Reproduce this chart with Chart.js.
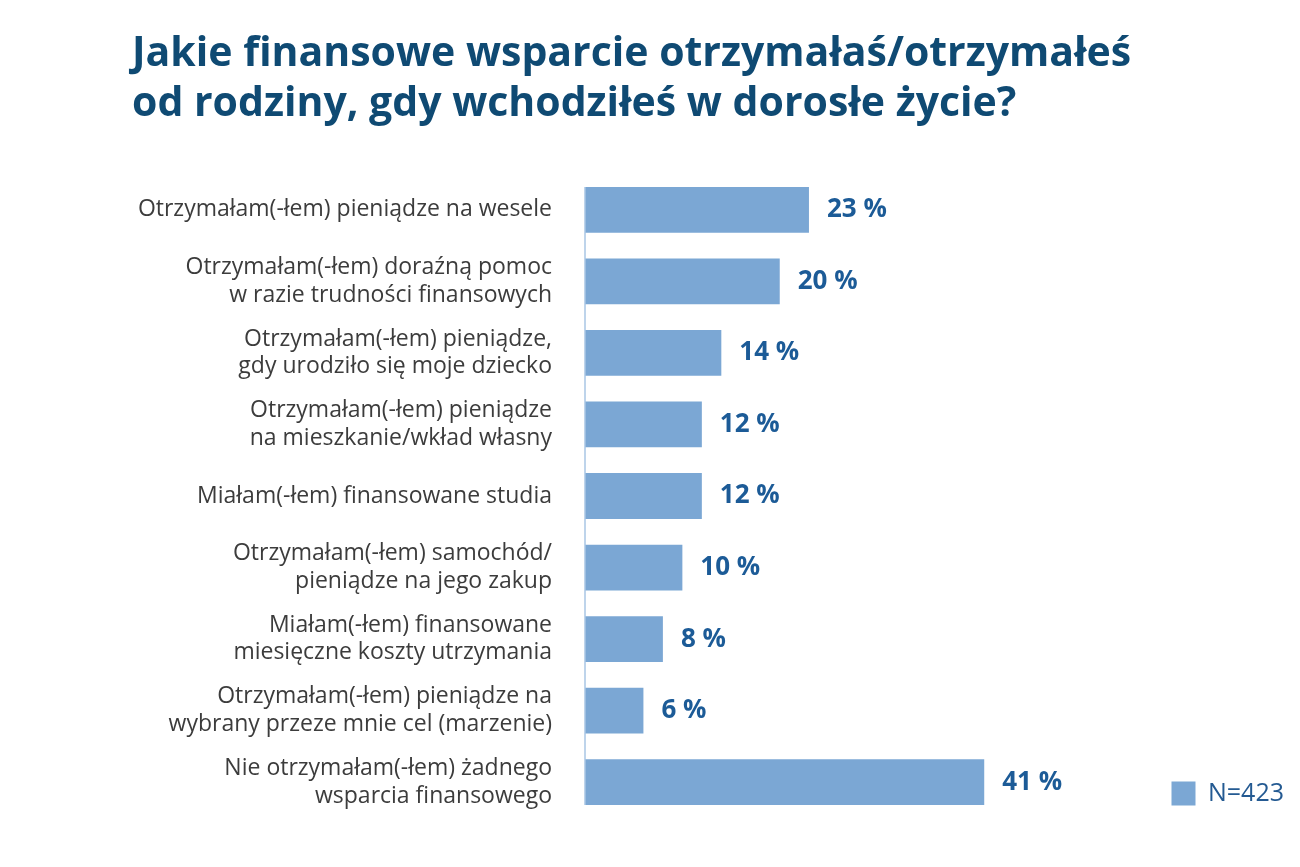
<!DOCTYPE html>
<html>
<head>
<meta charset="utf-8">
<script src="https://cdn.jsdelivr.net/npm/chart.js@4.4.1/dist/chart.umd.min.js"></script>
<style>
html,body{margin:0;padding:0;background:#fff;}
#wrap{width:1300px;height:867px;position:relative;}
</style>
</head>
<body>
<div id="wrap"><canvas id="c"></canvas></div>
<script>
const titleLines = ["Jakie finansowe wsparcie otrzymałaś/otrzymałeś", "od rodziny, gdy wchodziłeś w dorosłe życie?"];
const categories = [
  ["Otrzymałam(-łem) pieniądze na wesele"],
  ["Otrzymałam(-łem) doraźną pomoc", "w razie trudności finansowych"],
  ["Otrzymałam(-łem) pieniądze,", "gdy urodziło się moje dziecko"],
  ["Otrzymałam(-łem) pieniądze", "na mieszkanie/wkład własny"],
  ["Miałam(-łem) finansowane studia"],
  ["Otrzymałam(-łem) samochód/", "pieniądze na jego zakup"],
  ["Miałam(-łem) finansowane", "miesięczne koszty utrzymania"],
  ["Otrzymałam(-łem) pieniądze na", "wybrany przeze mnie cel (marzenie)"],
  ["Nie otrzymałam(-łem) żadnego", "wsparcia finansowego"]
];
const values = [23, 20, 14, 12, 12, 10, 8, 6, 41];
const seriesName = "N=423";

const FONT = "'Open Sans', 'Noto Sans', sans-serif";
const barColor = "#7ba7d4";
const valueColor = "#1c5b97";

const valueLabels = {
  id: 'valueLabels',
  afterDatasetsDraw(chart) {
    const ctx = chart.ctx;
    const meta = chart.getDatasetMeta(0);
    ctx.save();
    // axis line spanning only the bars
    const first = meta.data[0], last = meta.data[meta.data.length - 1];
    const x0 = chart.chartArea.left;
    ctx.strokeStyle = '#a9c6e4';
    ctx.lineWidth = 1.5;
    ctx.beginPath();
    ctx.moveTo(x0, first.y - first.height / 2);
    ctx.lineTo(x0, last.y + last.height / 2);
    ctx.stroke();

    ctx.font = "bold 26px " + FONT;
    ctx.fillStyle = valueColor;
    ctx.textAlign = 'left';
    ctx.textBaseline = 'middle';
    meta.data.forEach((bar, i) => {
      ctx.fillText(values[i] + " %", bar.x + 18, bar.y);
    });
    ctx.restore();
  }
};

const LEFT_PAD = 132;
const AXIS_X = 585;

new Chart(document.getElementById('c'), {
  type: 'bar',
  data: {
    labels: categories,
    datasets: [{
      label: seriesName,
      data: values,
      backgroundColor: barColor,
      borderWidth: 0,
      barPercentage: 0.8,
      categoryPercentage: 0.8
    }]
  },
  options: {
    indexAxis: 'y',
    responsive: true,
    maintainAspectRatio: false,
    animation: false,
    layout: { padding: { left: LEFT_PAD, top: 29, bottom: 49, right: 6 } },
    plugins: {
      title: {
        display: true,
        text: titleLines,
        align: 'start',
        color: '#0f4a73',
        font: { family: FONT, size: 41, weight: 'bold', lineHeight: 1.22 },
        padding: { top: 0, bottom: 45 }
      },
      legend: {
        display: true,
        position: 'right',
        align: 'end',
        labels: {
          boxWidth: 24,
          boxHeight: 24,
          color: '#245a92',
          font: { family: FONT, size: 25 },
          padding: 12
        }
      },
      tooltip: { enabled: false }
    },
    scales: {
      x: {
        display: false,
        min: 0,
        max: 59
      },
      y: {
        afterFit(scale) { scale.width = AXIS_X - LEFT_PAD; },
        grid: { display: false, drawTicks: false },
        border: { display: false },
        ticks: {
          color: '#3c3c3c',
          padding: 33,
          font: { family: FONT, size: 23, lineHeight: 1.2 }
        }
      }
    }
  },
  plugins: [valueLabels]
});
</script>
</body>
</html>
